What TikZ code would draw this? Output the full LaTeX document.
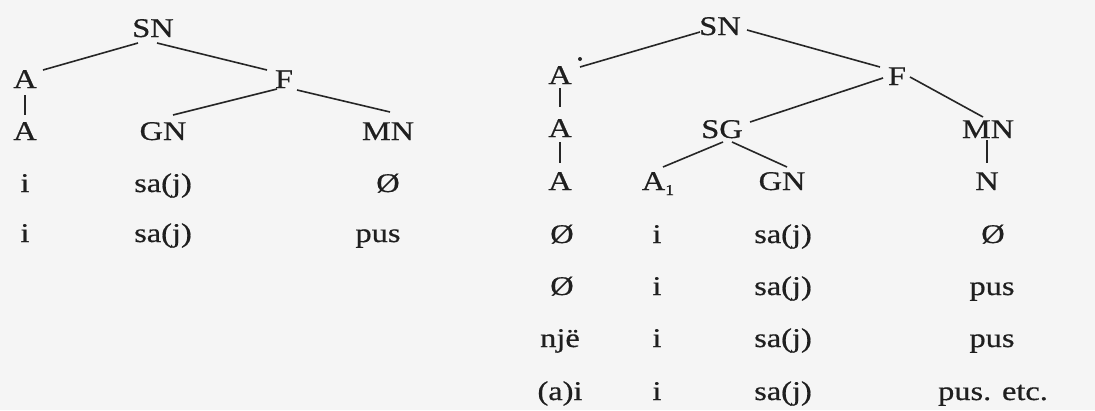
\documentclass[tikz,border=0pt]{standalone}
\usepackage{fontspec}
\setmainfont[FakeStretch=1.2,FakeBold=0.6]{Liberation Serif}
\usetikzlibrary{calc}
\tikzset{
  lbl/.style={anchor=base, inner sep=0pt, text=black!88, font=\fontsize{27}{30}\selectfont},
  edge/.style={draw=black!85, line width=1.6pt}
}
\newcommand{\Aone}{A\raisebox{-5pt}{\fontsize{15}{15}\selectfont 1}}
\begin{document}
\begin{tikzpicture}[x=1pt,y=-1pt]
\fill[black!4] (0,0) rectangle (1095,410);
\useasboundingbox (0,0) rectangle (1095,410);
% ---------- left tree ----------
\node[lbl] (lsn) at (153,37) {SN};
\node[lbl] (la1) at (25,88) {A};
\node[lbl] (lf) at (284,88) {F};
\node[lbl] (la2) at (25,140) {A};
\node[lbl] (lgn) at (163,140) {GN};
\node[lbl] (lmn) at (388,140) {MN};
\node[lbl] (lr1a) at (25,192) {i};
\node[lbl] (lr1b) at (163,192) {sa(j)};
\node[lbl] (lr1c) at (388,192) {Ø};
\node[lbl] (lr2a) at (25,242) {i};
\node[lbl] (lr2b) at (163,242) {sa(j)};
\node[lbl] (lr2c) at (378,242) {pus};
\draw[edge] ($(la1.base)+(18,-18)$) -- ($(lsn.base)+(-15,6)$);
\draw[edge] ($(lsn.base)+(4,6)$) -- ($(lf.base)+(-17,-18)$);
\draw[edge] ($(lf.base)+(-7,1)$) -- ($(lgn.base)+(10,-25)$);
\draw[edge] ($(lf.base)+(13,2)$) -- ($(lmn.base)+(2,-28)$);
\draw[edge] ($(la1.base)+(0,7)$) -- ($(la2.base)+(0,-25)$);
% ---------- right tree ----------
\node[lbl] (rsn) at (720,35) {SN};
\node[lbl] (ra1) at (560,84) {A};
\node[lbl] (rf) at (897,85) {F};
\node[lbl] (ra2) at (560,137) {A};
\node[lbl] (rsg) at (722,138) {SG};
\node[lbl] (rmn) at (988,138) {MN};
\node[lbl] (ra3) at (560,190) {A};
\node[lbl] (rasub) at (658,190) {\Aone};
\node[lbl] (rgn) at (782,190) {GN};
\node[lbl] (rn) at (987,190) {N};
% rows
\node[lbl] (r1a) at (562,243) {Ø};
\node[lbl] (r1b) at (657,243) {i};
\node[lbl] (r1c) at (783,243) {sa(j)};
\node[lbl] (r1d) at (993,243) {Ø};
\node[lbl] (r2a) at (562,295) {Ø};
\node[lbl] (r2b) at (657,295) {i};
\node[lbl] (r2c) at (783,295) {sa(j)};
\node[lbl] (r2d) at (992,295) {pus};
\node[lbl] (r3a) at (560,347) {një};
\node[lbl] (r3b) at (657,347) {i};
\node[lbl] (r3c) at (783,347) {sa(j)};
\node[lbl] (r3d) at (992,347) {pus};
\node[lbl] (r4a) at (560,400) {(a)i};
\node[lbl] (r4b) at (657,400) {i};
\node[lbl] (r4c) at (783,400) {sa(j)};
\node[lbl] (r4d) at (993,400) {pus. etc.};
\draw[edge] ($(ra1.base)+(20,-17)$) -- ($(rsn.base)+(-20,-3)$);
\draw[edge] ($(rsn.base)+(27,-5)$) -- ($(rf.base)+(-17,-18)$);
\draw[edge] ($(rf.base)+(-14,-7)$) -- ($(rsg.base)+(28,-16)$);
\draw[edge] ($(rf.base)+(13,-8)$) -- ($(rmn.base)+(-5,-21)$);
\draw[edge] ($(rsg.base)+(1,4)$) -- ($(rasub.base)+(5,-23)$);
\draw[edge] ($(rsg.base)+(10,4)$) -- ($(rgn.base)+(5,-23)$);
\draw[edge] ($(rmn.base)+(-1,2)$) -- ($(rn.base)+(0,-27)$);
\draw[edge] ($(ra1.base)+(0,4)$) -- ($(ra2.base)+(0,-30)$);
\draw[edge] ($(ra2.base)+(0,5)$) -- ($(ra3.base)+(0,-27)$);
\fill[black!85] (580,59) circle (2);
\end{tikzpicture}
\end{document}
